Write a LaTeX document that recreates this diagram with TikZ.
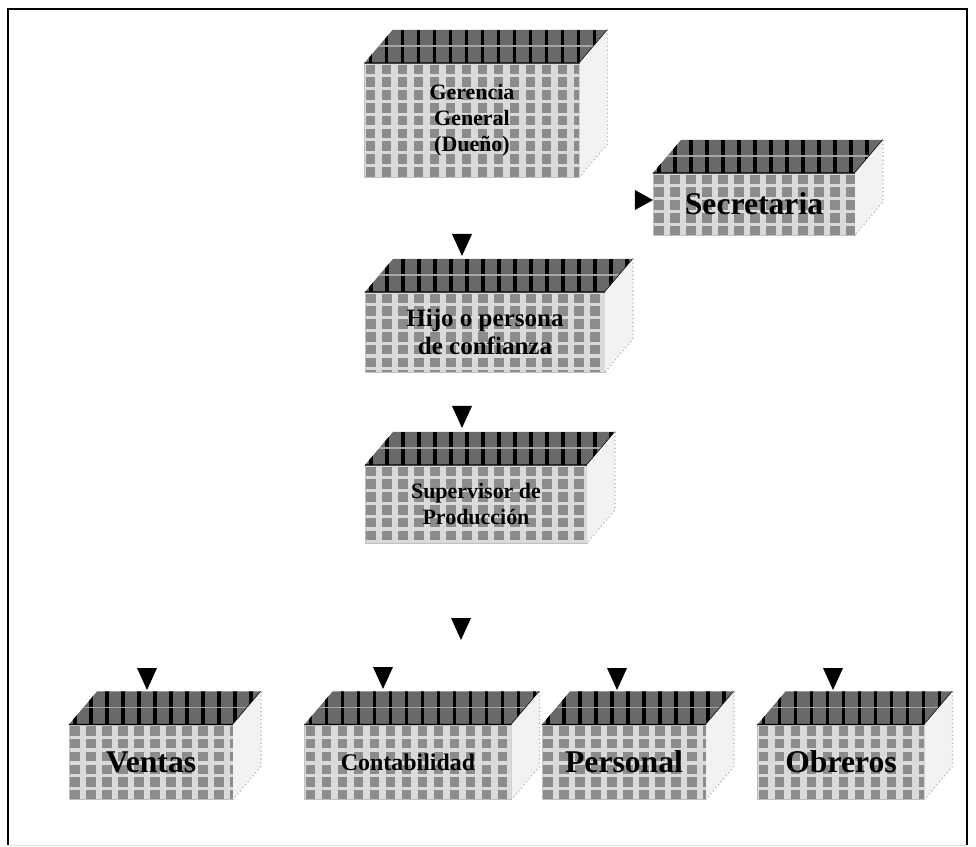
\documentclass[tikz,border=0pt]{standalone}
\usepackage{fontspec}
\setmainfont{Liberation Serif}
\usetikzlibrary{calc,positioning}
\definecolor{cjfondo}{RGB}{218,218,218}
\definecolor{cjmancha}{RGB}{140,140,140}
\definecolor{cjtapa}{RGB}{105,105,105}
\definecolor{cjlado}{RGB}{242,242,242}
\tikzstyle{frente} = [rectangle, inner sep=0pt, outer sep=0pt, text centered, align=center, fill=cjfondo, draw=gray!50, font=\bfseries,
  path picture={
    \foreach \k in {0.15,0.55,...,7}
      \draw[cjmancha, line width=0.24cm, dash pattern=on 0.24cm off 0.08cm]
        ([xshift=\k cm, yshift=-0.04cm]path picture bounding box.north west) -- ([xshift=\k cm]path picture bounding box.south west);
  }]
\tikzstyle{punta} = [fill=black]
\newcommand{\chico}{\fontsize{15.6}{18.5}\selectfont}
\newcommand{\medio}{\fontsize{17.8}{19.5}\selectfont}
\newcommand{\grande}{\fontsize{22.5}{24}\selectfont}
% tapa y lado de cada caja
\newcommand{\caras}[1]{%
  \coordinate (#1-a) at ($(#1.north west)+(28,-33)$);
  \coordinate (#1-b) at ($(#1.north east)+(28,-33)$);
  \coordinate (#1-c) at ($(#1.south east)+(28,-33)$);
  \fill[cjtapa] (#1.north west) -- (#1-a) -- (#1-b) -- (#1.north east) -- cycle;
  \begin{scope}
    \clip (#1.north west) -- (#1-a) -- (#1-b) -- (#1.north east) -- cycle;
    \foreach \k in {6,22,...,300}
      \draw[black, line width=2.4pt] ($(#1.north west)+(\k,0)$) -- ++(0,-33);
    \draw[gray!70, line width=1.2pt] ($(#1.north west)+(0,-17)$) -- ++(340,0);
  \end{scope}
  \draw[black, line width=1pt] (#1.north west) -- (#1.north east) -- (#1-b);
  \fill[cjlado] (#1.north east) -- (#1-b) -- (#1-c) -- (#1.south east) -- cycle;
  \draw[gray!60, dotted, line width=0.8pt] (#1-b) -- (#1-c) -- (#1.south east);
}
\begin{document}
\begin{tikzpicture}[x=0.025cm, y=-0.025cm]
\useasboundingbox (0,0) rectangle (976,847);
% marco
\draw[line width=2pt] (8,845) -- (8,9) -- (967,9) -- (967,845);
\draw[gray!25, line width=0.5pt] (8,845) -- (967,845);

% Gerencia general
\node[frente, minimum width=5.375cm, minimum height=2.85cm, font=\chico\bfseries] (ger) at (472,120) {Gerencia\\General\\(Dueño)};
\caras{ger}

% Secretaria
\node[frente, minimum width=5.05cm, minimum height=1.55cm, font=\grande\bfseries] (sec) at (754,204) {Secretaria};
\caras{sec}

% Hijo o persona de confianza
\node[frente, minimum width=6cm, minimum height=2cm, font=\medio\bfseries] (hijo) at (485,332) {Hijo o persona\\de confianza};
\caras{hijo}

% Supervisor
\node[frente, minimum width=5.55cm, minimum height=1.95cm, font=\chico\bfseries] (sup) at (476,504) {Supervisor de\\Producción};
\caras{sup}

% Departamentos
\node[frente, minimum width=4.1cm, minimum height=1.875cm, font=\grande\bfseries] (ven) at (151,762) {Ventas};
\caras{ven}
\node[frente, minimum width=5.175cm, minimum height=1.875cm, font=\fontsize{17}{19}\selectfont\bfseries] (con) at (408,762) {Contabilidad};
\caras{con}
\node[frente, minimum width=4.1cm, minimum height=1.875cm, font=\grande\bfseries] (per) at (624,762) {Personal};
\caras{per}
\node[frente, minimum width=4.175cm, minimum height=1.875cm, font=\grande\bfseries] (obr) at (841,762) {Obreros};
\caras{obr}

% puntas de flecha
\coordinate (p-hijo) at (462,256);
\coordinate (p-sup) at (462,428);
\coordinate (p-centro) at (461,640);
\coordinate (p-ven) at (147,690);
\coordinate (p-con) at (383,689);
\coordinate (p-per) at (617,690);
\coordinate (p-obr) at (833,690);
\foreach \p in {hijo,sup,centro,ven,con,per,obr}
  \fill[punta] (p-\p) -- ++(-10,-22) -- ++(20,0) -- cycle;
\coordinate (p-sec) at ($(sec.west)+(0,-4)$);
\fill[punta] (p-sec) -- ++(-18,-10) -- ++(0,20) -- cycle;
\end{tikzpicture}
\end{document}
